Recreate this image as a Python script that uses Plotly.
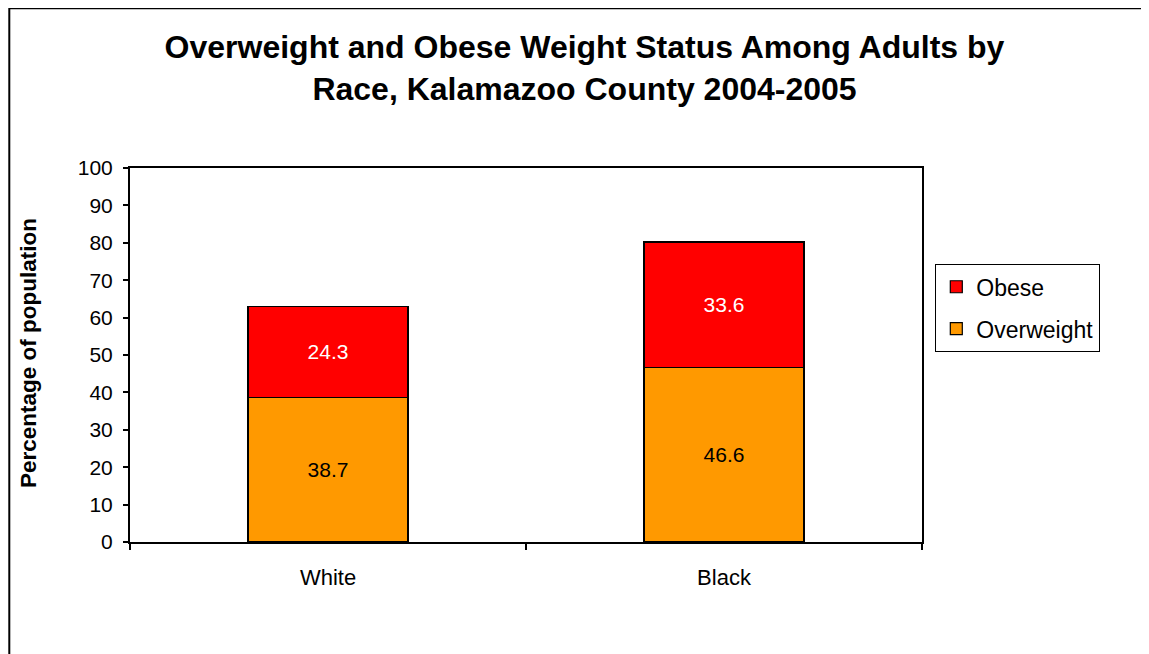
import plotly.graph_objects as go

categories = ["White", "Black"]
overweight = [38.7, 46.6]
obese = [24.3, 33.6]
y_ticks = [0, 10, 20, 30, 40, 50, 60, 70, 80, 90, 100]

FONT = "Liberation Sans, Arial, sans-serif"

W, H = 1149, 654
OFF = 8  # page body margin
# target plot area in page pixels
PX0, PX1, PY0, PY1 = 130, 922, 168, 542
L = PX0 - OFF
T = PY0 - OFF
R = OFF + W - PX1
B = OFF + H - PY1
pw, ph = PX1 - PX0, PY1 - PY0

def px_x(p):
    return (p - PX0) / pw

def px_y(p):
    return (PY1 - p) / ph

fig = go.Figure()
fig.add_trace(go.Bar(
    x=categories, y=overweight, name="Overweight",
    marker=dict(color="#FF9900", line=dict(color="black", width=1.2)),
    text=[f"{v:.1f}" for v in overweight], textposition="inside",
    insidetextanchor="middle",
    textfont=dict(color="black", size=21, family=FONT),
    legendgroup="ow", legendrank=2,
))
fig.add_trace(go.Bar(
    x=categories, y=obese, name="Obese",
    marker=dict(color="#FF0000", line=dict(color="black", width=1.2)),
    text=[f"{v:.1f}" for v in obese], textposition="inside",
    insidetextanchor="middle",
    textfont=dict(color="white", size=21, family=FONT),
    legendgroup="ob", legendrank=1,
))

fig.update_layout(
    width=W, height=H,
    barmode="stack", bargap=0.596,
    margin=dict(l=L, r=R, t=T, b=B),
    paper_bgcolor="white", plot_bgcolor="white",
    font=dict(family=FONT, color="black", size=21),
    uniformtext=dict(mode=False),
    title=dict(
        text="Overweight and Obese Weight Status Among Adults by<br>Race, Kalamazoo County 2004-2005",
        x=px_x(584.5), xref="paper", xanchor="center",
        y=1 - 50 / H, yref="container", yanchor="top",
        font=dict(family=FONT, size=32, color="black", weight="bold"),
    ),
    showlegend=True,
    legend=dict(
        x=px_x(935), y=px_y(264), xanchor="left", yanchor="top",
        bordercolor="black", borderwidth=1.3, bgcolor="white",
        font=dict(family=FONT, size=23, color="black"),
        traceorder="grouped", tracegroupgap=9,
    ),
    xaxis=dict(
        type="category", showline=True, linecolor="black", linewidth=2,
        mirror=True, ticks="outside", tickson="boundaries", ticklen=6,
        tickwidth=1.5, tickcolor="black", showgrid=False,
        tickfont=dict(family=FONT, size=22), ticklabelstandoff=15,
    ),
    yaxis=dict(
        range=[0, 100], tickvals=y_ticks, showline=True, linecolor="black",
        linewidth=2, mirror=True, ticks="outside", ticklen=5, tickwidth=1.5,
        tickcolor="black", showgrid=False, zeroline=False,
        tickfont=dict(family=FONT, size=21), ticklabelstandoff=6,
    ),
    annotations=[dict(
        text="<b>Percentage of population</b>", textangle=-90,
        x=px_x(28), y=px_y(353), xref="paper", yref="paper",
        xanchor="center", yanchor="middle", showarrow=False,
        font=dict(family=FONT, size=22.5, color="black"),
    )],
    shapes=[dict(
        type="rect", xref="paper", yref="paper",
        x0=px_x(9.3), x1=px_x(1175), y0=px_y(8.3), y1=px_y(690),
        line=dict(color="black", width=2), layer="below",
    )],
)

fig.write_html("out.html")
